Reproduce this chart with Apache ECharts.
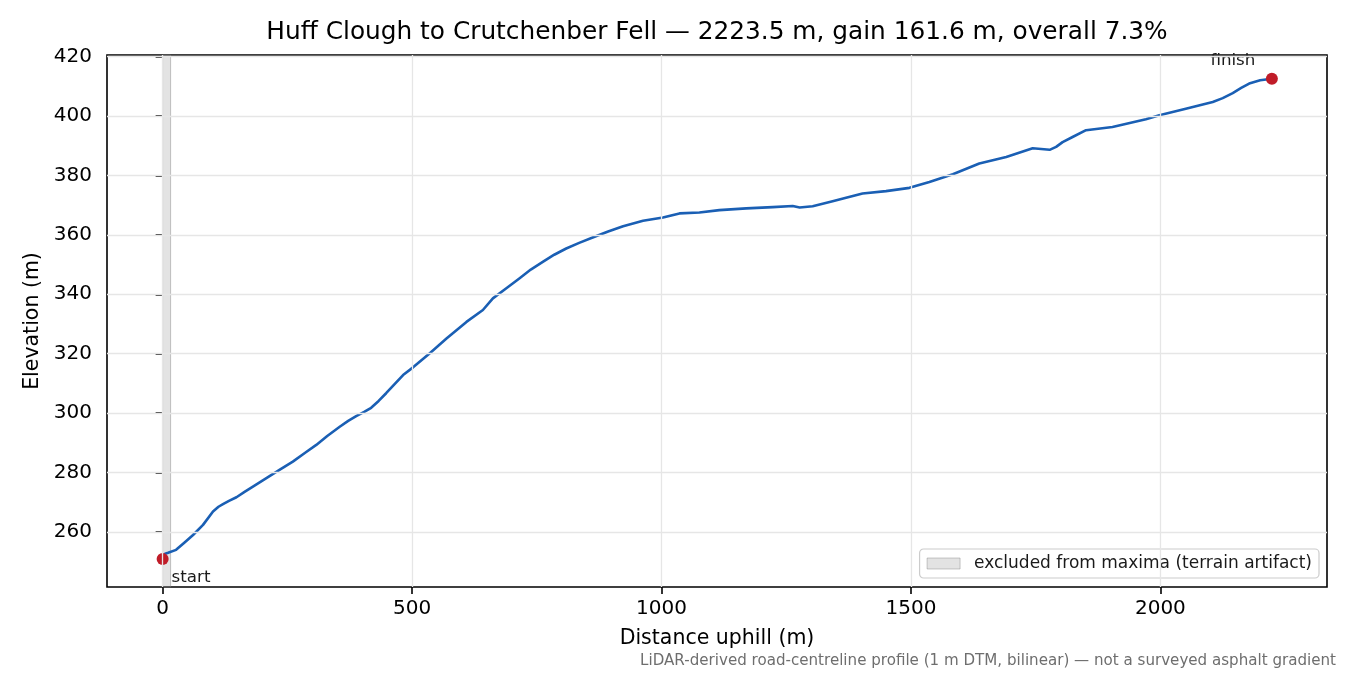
<!DOCTYPE html>
<html>
<head>
<meta charset="utf-8">
<script src="https://cdn.jsdelivr.net/npm/echarts@6/dist/echarts.min.js"></script>
<style>
html,body{margin:0;padding:0;background:#fff;}
#c{width:1350px;height:675px;}
</style>
</head>
<body>
<div id="c"></div>
<script>
// ---- data ----
const distance = [0, 5, 11, 27, 44, 61, 81, 101, 112, 121, 133, 148, 165, 181, 208, 235, 261, 285, 308, 330, 355, 372, 388, 404, 418, 433, 448, 465, 482, 502,
  535, 569, 609, 642, 662, 689, 715, 738, 762, 785, 809, 835, 862, 893, 923, 963, 1003, 1036, 1076, 1116, 1170, 1223, 1263, 1277,
  1303, 1343, 1370, 1403, 1450, 1497, 1537, 1584, 1637, 1691, 1744, 1778, 1791, 1804, 1824, 1851, 1904, 1971,
  1998, 2051, 2105, 2125, 2145, 2162, 2178, 2200, 2223.5];
const elevation = [250.9, 252.7, 253.0, 254.0, 256.5, 259.0, 262.4, 266.9, 268.5, 269.4, 270.5, 271.7, 273.6, 275.3, 278.1, 281.0, 283.7, 286.6, 289.3, 292.3, 295.4, 297.4, 299.0, 300.4, 301.8, 304.1, 306.7, 309.8, 312.8, 315.4,
  320.1, 325.1, 330.7, 334.7, 338.6, 342.0, 345.3, 348.3, 350.9, 353.3, 355.4, 357.3, 359.1, 361.1, 362.9, 364.7, 365.8, 367.2, 367.5, 368.3, 368.9, 369.3, 369.7, 369.2,
  369.6, 371.3, 372.5, 373.9, 374.7, 375.8, 377.8, 380.4, 384.0, 386.2, 389.1, 388.6, 389.6, 391.2, 392.9, 395.2, 396.3, 398.9,
  400.2, 402.4, 404.7, 406.0, 407.7, 409.4, 410.9, 412.0, 412.5];
const xTicks = [0, 500, 1000, 1500, 2000];
const yTicks = [260, 280, 300, 320, 340, 360, 380, 400, 420];
const excludedRange = [0, 16];
const endLabels = ['start', 'finish'];
const legendName = 'excluded from maxima (terrain artifact)';
const titleText = 'Huff Clough to Crutchenber Fell \u2014 2223.5 m, gain 161.6 m, overall 7.3%';
const footText = 'LiDAR-derived road-centreline profile (1 m DTM, bilinear) \u2014 not a surveyed asphalt gradient';

const FONT = '"DejaVu Sans", "Liberation Sans", sans-serif';
const profile = distance.map((d, i) => [d, elevation[i]]);
const last = distance.length - 1;

const chart = echarts.init(document.getElementById('c'), null, {renderer: 'canvas'});
chart.setOption({
  animation: false,
  backgroundColor: '#ffffff',
  textStyle: {fontFamily: FONT},
  grid: {left: 107, right: 23, top: 55, bottom: 88, show: true, borderColor: '#000000', borderWidth: 1.6, backgroundColor: 'transparent'},
  xAxis: {
    type: 'value', min: -111.5, max: 2334,
    name: 'Distance uphill (m)', nameLocation: 'middle', nameGap: 41,
    nameTextStyle: {fontSize: 20.5, color: '#000', fontFamily: FONT},
    axisLine: {show: false},
    axisTick: {show: true, inside: false, length: 7, customValues: xTicks, lineStyle: {color: '#000', width: 1.6}},
    axisLabel: {show: true, customValues: xTicks, margin: 12, fontSize: 20, color: '#000', fontFamily: FONT, formatter: v => String(v)},
    splitLine: {show: false}
  },
  yAxis: {
    type: 'value', min: 241.5, max: 420.5,
    name: 'Elevation (m)', nameLocation: 'middle', nameGap: 63,
    nameTextStyle: {fontSize: 20.5, color: '#000', fontFamily: FONT},
    axisLine: {show: false},
    axisTick: {show: true, inside: false, length: 7, customValues: yTicks, lineStyle: {color: '#000', width: 1.6}},
    axisLabel: {show: true, customValues: yTicks, margin: 15, fontSize: 20, color: '#000', fontFamily: FONT, formatter: v => String(v)},
    splitLine: {show: false}
  },
  legend: {
    right: 31, bottom: 97, orient: 'horizontal',
    backgroundColor: 'rgba(255,255,255,0.85)', borderColor: '#cccccc', borderWidth: 1.2, borderRadius: 4,
    padding: [6, 7, 6, 7], itemWidth: 33, itemHeight: 11,
    textStyle: {fontSize: 17, color: '#1a1a1a', fontFamily: FONT, padding: [0, 0, 0, 9]},
    data: [{name: legendName, icon: 'rect', itemStyle: {color: 'rgba(128,128,128,0.22)', borderColor: 'rgba(128,128,128,0.4)', borderWidth: 1}}],
    selectedMode: false
  },
  graphic: [
    {type: 'text', x: 717, y: 33, silent: true,
     style: {text: titleText, fontSize: 24.8, fontFamily: FONT, fill: '#000', align: 'center', verticalAlign: 'middle'}},
    {type: 'text', x: 1336, y: 661, silent: true,
     style: {text: footText, fontSize: 15.1, fontFamily: FONT, fill: '#6e6e6e', align: 'right', verticalAlign: 'middle'}}
  ],
  series: [
    {
      name: legendName, type: 'line', data: profile, z: 1, silent: true,
      showSymbol: false, lineStyle: {opacity: 0, width: 0},
      itemStyle: {color: 'rgba(128,128,128,0.22)'},
      markLine: {
        silent: true, symbol: 'none', label: {show: false},
        lineStyle: {color: '#e6e6e6', width: 1.3, type: 'solid'},
        data: xTicks.map(v => ({xAxis: v})).concat(yTicks.map(v => ({yAxis: v})))
      },
      markArea: {
        silent: true,
        itemStyle: {color: 'rgba(128,128,128,0.22)', borderColor: 'rgba(128,128,128,0.45)', borderWidth: 1},
        data: [[{xAxis: excludedRange[0]}, {xAxis: excludedRange[1]}]]
      }
    },
    {
      name: 'profile', type: 'line', data: profile, z: 3, silent: true,
      showSymbol: false, smooth: false,
      lineStyle: {color: '#1a5fb4', width: 2.6, join: 'round', cap: 'round'}
    },
    {
      name: 'ends', type: 'scatter', z: 4, silent: true, symbolSize: 12,
      itemStyle: {color: '#c01c28', opacity: 1},
      data: [
        {value: [distance[0], elevation[0]], label: {show: true, formatter: endLabels[0], position: 'inside', align: 'left', offset: [9, 19], fontSize: 16.7, color: '#1a1a1a', fontFamily: FONT}},
        {value: [distance[last], elevation[last]], label: {show: true, formatter: endLabels[1], position: 'inside', align: 'center', offset: [-39, -18], fontSize: 16.7, color: '#1a1a1a', fontFamily: FONT}}
      ]
    }
  ]
});
</script>
</body>
</html>
